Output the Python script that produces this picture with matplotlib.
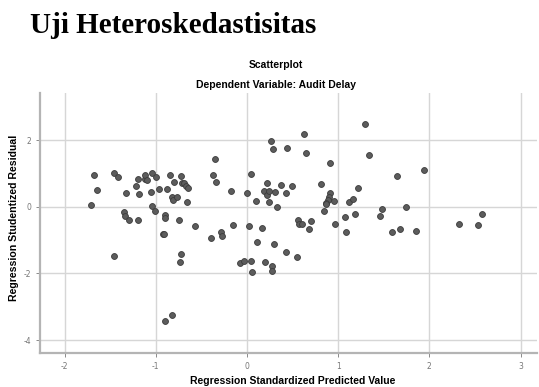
import matplotlib.pyplot as plt  # Para la creación de gráficos

# Datos (valor predicho estandarizado vs residuo studentizado)
predicted_value = [
    -1.71, -1.68, -1.65, -1.46, -1.41, -1.46, -1.35, -1.34, -1.33, -1.29,
    -1.22, -1.19, -1.18, -1.19, -1.12, -1.12, -1.10, -1.05, -1.04, -1.00,
    -1.04, -1.01, -0.96, -0.88, -0.92, -0.91, -0.90, -0.90, -0.84, -0.82,
    -0.81, -0.80, -0.77, -0.75, -0.74, -0.72, -0.72, -0.71, -0.69, -0.67,
    -0.65, -0.66, -0.57, -0.40, -0.37, -0.35, -0.34, -0.28, -0.27, -0.18,
    -0.15, -0.08, -0.03, 0.00, 0.02, 0.04, 0.04, 0.05, 0.10, 0.11,
    0.17, 0.20, 0.19, 0.22, 0.22, 0.24, 0.24, 0.26, 0.28, 0.27,
    0.27, 0.30, 0.31, 0.33, 0.37, 0.43, 0.43, 0.44, 0.49, 0.55,
    0.56, 0.57, 0.60, 0.63, 0.65, 0.70, 0.68, 0.81, 0.91, 0.91,
    0.90, 0.89, 0.87, 0.87, 0.95, 0.85, 0.97, 1.12, 1.16, 1.22,
    1.19, 1.07, 1.09, 1.29, 1.34, 1.65, 1.94, 1.46, 1.48, 1.74,
    1.59, 1.68, 1.85, 2.33, 2.53, 2.58, -0.90, -0.82,
]
studentized_residual = [
    0.05, 0.95, 0.49, 1.01, 0.88, -1.48, -0.15, -0.27, 0.41, -0.39,
    0.61, 0.82, 0.37, -0.41, 0.83, 0.94, 0.81, 0.45, 1.01, 0.89,
    0.01, -0.12, 0.54, 0.52, -0.82, -0.82, -0.25, -0.35, 0.96, 0.29,
    0.20, 0.73, 0.28, -0.41, -1.65, -1.43, 0.93, 0.72, 0.70, 0.61,
    0.57, 0.13, -0.57, -0.94, 0.96, 1.42, 0.75, -0.75, -0.88, 0.48,
    -0.55, -1.69, -1.62, 0.42, -0.59, -1.62, 0.98, -1.97, 0.17, -1.07,
    -0.64, -1.66, 0.48, 0.70, 0.35, 0.47, 0.13, 1.98, 1.72, -1.79,
    -1.92, -1.13, 0.44, 0.00, 0.66, -1.37, 0.42, 1.77, 0.63, -1.52,
    -0.40, -0.51, -0.52, 2.17, 1.61, -0.43, -0.66, 0.67, 1.31, 0.40,
    0.30, 0.20, 0.10, 0.07, 0.18, -0.14, -0.51, 0.14, 0.24, 0.57,
    -0.22, -0.30, -0.75, 2.47, 1.55, 0.93, 1.09, -0.29, -0.06, -0.01,
    -0.77, -0.68, -0.74, -0.51, -0.56, -0.23, -3.42, -3.24,
]
x_ticks = [-2, -1, 0, 1, 2, 3]
y_ticks = [-4, -2, 0, 2]

plt.rcParams["axes.unicode_minus"] = False  # Guion normal en las etiquetas

# Crear figura del tamaño de la imagen original
fig = plt.figure(figsize=(5.39, 3.87), dpi=100)
ax = fig.add_axes([0.0742, 0.0886, 0.922, 0.671])

# Cuadrícula y ejes al estilo SPSS
ax.set_axisbelow(True)
ax.grid(True, color="#d6d6d6", linewidth=1.0)
ax.scatter(predicted_value, studentized_residual, s=18, color="#5c5c5c",
           edgecolors="#3c3c3c", linewidths=0.6, zorder=3)
ax.set_xlim(-2.27, 3.18)
ax.set_ylim(-4.38, 3.41)
ax.set_xticks(x_ticks)
ax.set_yticks(y_ticks)
ax.tick_params(labelsize=5.5, colors="#777777", length=3, width=0.6)
for lado in ["top", "right"]:
    ax.spines[lado].set_visible(False)
for lado in ["left", "bottom"]:
    ax.spines[lado].set_color("#b4b4b4")
    ax.spines[lado].set_linewidth(1.6)

# Textos
fig.text(30 / 539, 1 - 33 / 387, "Uji Heteroskedastisitas", fontsize=21,
         fontweight="bold", family="Liberation Serif", va="baseline")
fig.text(276 / 539, 1 - 65 / 387, "Scatterplot", fontsize=7.5, fontweight="bold",
         family="Liberation Sans", ha="center", va="center")
fig.text(276 / 539, 1 - 85 / 387, "Dependent Variable: Audit Delay", fontsize=7.5,
         fontweight="bold", family="Liberation Sans", ha="center", va="center")
fig.text(293 / 539, 1 - 381 / 387, "Regression Standardized Predicted Value",
         fontsize=7.5, fontweight="bold", family="Liberation Sans",
         ha="center", va="center")
fig.text(14 / 539, 1 - 218 / 387, "Regression Studentized Residual",
         fontsize=7.6, fontweight="bold", family="Liberation Sans",
         ha="center", va="center", rotation=90)

fig.savefig("out.png", dpi=100)
